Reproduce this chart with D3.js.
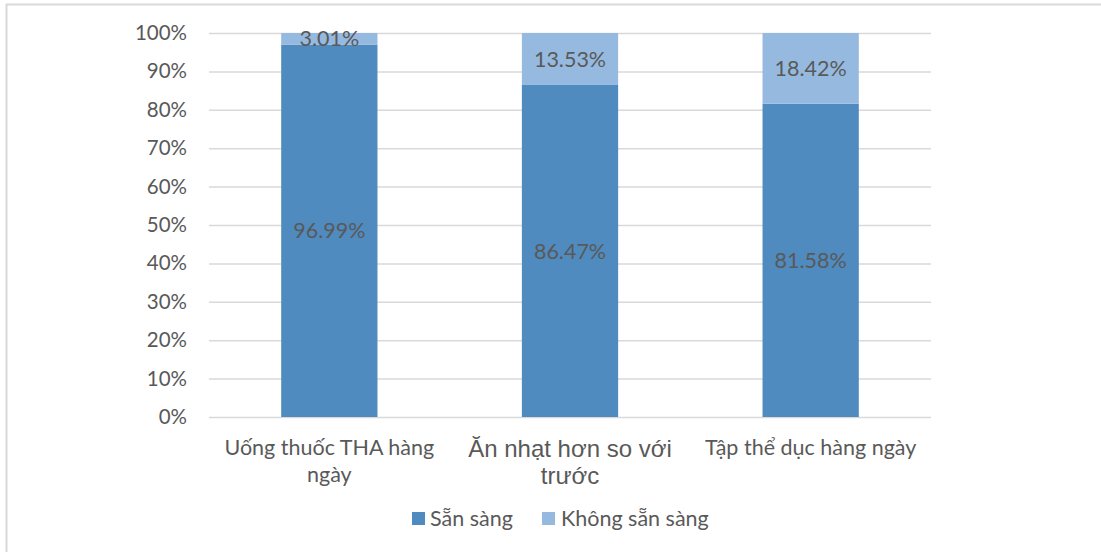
<!DOCTYPE html>
<html><head><meta charset="utf-8">
<script src="https://cdn.jsdelivr.net/npm/d3@7"></script>
<style>body{margin:0;background:#fff}svg{display:block}</style>
</head><body>
<svg id="c" width="1101" height="552"></svg>
<script>
const categories = [["Uống thuốc THA hàng","ngày"],["Ăn nhạt hơn so với","trước"],["Tập thể dục hàng ngày"]];
const seriesNames = ["Sẵn sàng","Không sẵn sàng"];
const ready = [96.99, 86.47, 81.58];
const notReady = [3.01, 13.53, 18.42];
const yTicks = [0,10,20,30,40,50,60,70,80,90,100];
const colors = ["#4f8bbf","#96b9e0"];

const svg = d3.select("#c");
const font = "Lato, 'Noto Sans', sans-serif";
// frame
svg.append("path").attr("d","M6.5,552 V4.5 H1101").attr("fill","none").attr("stroke","#d9d9d9").attr("stroke-width",2);

const x = d3.scaleBand().domain(d3.range(categories.length)).range([209,931]).paddingInner(0.6).paddingOuter(0.3);
const y = d3.scaleLinear().domain([0,100]).range([417,33]);

const g = svg.append("g");
g.selectAll("line.grid").data(yTicks).join("line")
 .attr("x1",209).attr("x2",931).attr("y1",d=>y(d)+0.5).attr("y2",d=>y(d)+0.5)
 .attr("stroke","#d9d9d9").attr("stroke-width",1.5);

const yAxis = d3.axisLeft(y).tickValues(yTicks).tickFormat(d=>d+"%").tickSize(0).tickPadding(0);
const ya = svg.append("g").attr("transform","translate(187,0)").call(yAxis);
ya.select(".domain").remove();
ya.selectAll("text").attr("font-family",font).attr("font-size",20.5).attr("fill","#595959");

const stackData = categories.map((c,i)=>({i, a:ready[i], b:notReady[i]}));
const stack = d3.stack().keys(["a","b"])(stackData);
stack.forEach((s,k)=>{
  g.selectAll(null).data(s).join("rect")
   .attr("x",d=>x(d.data.i)).attr("width",x.bandwidth())
   .attr("y",d=>y(d[1])).attr("height",d=>y(d[0])-y(d[1]))
   .attr("fill",colors[k]);
  g.selectAll(null).data(s).join("text")
   .attr("x",d=>x(d.data.i)+x.bandwidth()/2)
   .attr("y",d=>(y(d[0])+y(d[1]))/2)
   .attr("dy","0.35em").attr("text-anchor","middle")
   .attr("font-family",font).attr("font-size",21.5).attr("fill","#595959")
   .text(d=>(d[1]-d[0]).toFixed(2)+"%");
});

// category labels
categories.forEach((lines,i)=>{
  const t = svg.append("text").attr("text-anchor","middle")
    .attr("font-family", i===1 ? "'Liberation Sans', Arial, sans-serif" : font)
    .attr("font-size", i===1 ? 24 : 21.5).attr("fill","#595959");
  lines.forEach((l,j)=>t.append("tspan").attr("x",x(i)+x.bandwidth()/2).attr("y",(i===1?457:455)+j*27).text(l));
});

// legend
const leg = [{x:412,tx:430},{x:542,tx:561}];
seriesNames.forEach((n,i)=>{
  svg.append("rect").attr("x",leg[i].x).attr("y",512).attr("width",13).attr("height",13).attr("fill",colors[i]);
  svg.append("text").attr("x",leg[i].tx).attr("y",526).attr("font-family",font).attr("font-size",21.5).attr("fill","#595959").text(n);
});
</script>
</body></html>
